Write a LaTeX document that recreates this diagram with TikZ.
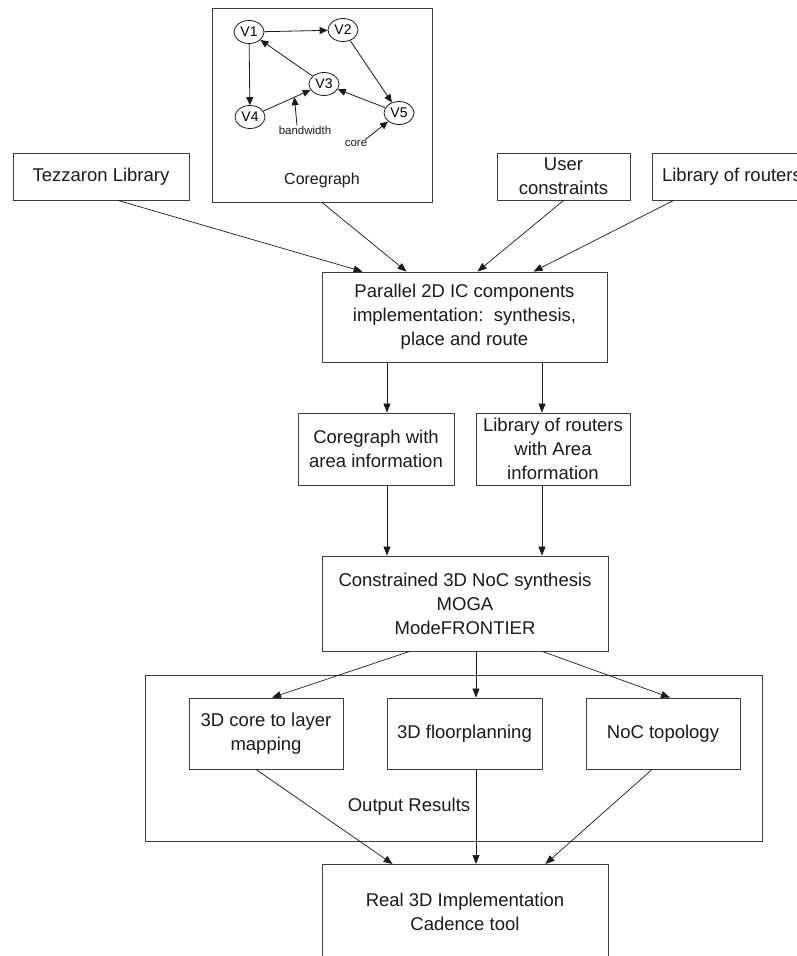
\documentclass[tikz,border=0pt]{standalone}
\usepackage{fontspec}
\setsansfont{Liberation Sans}
\usetikzlibrary{arrows.meta,shapes.geometric,calc}
\definecolor{ink}  {HTML}{1A1A1A}
\definecolor{frame}{HTML}{3C3C3C}
\tikzset{
  box/.style ={draw=frame, line width=0.9pt, fill=white, align=center,
               inner sep=0pt, text=ink,
               font=\sffamily\fontsize{18.5}{24}\selectfont},
  vtx/.style ={ellipse, draw=ink, line width=0.8pt, fill=white,
               minimum width=30pt, minimum height=23pt, inner sep=0pt,
               font=\sffamily\fontsize{14}{14}\selectfont},
  ar/.style  ={-{Triangle[length=9pt,width=7pt]}, draw=ink, line width=0.7pt},
  arg/.style ={-{Triangle[length=8pt,width=7pt]}, draw=ink, line width=0.8pt},
  tag/.style ={font=\sffamily\fontsize{11.5}{12}\selectfont, text=ink,
               inner sep=0pt},
  note/.style={font=\sffamily\fontsize{18.5}{22}\selectfont, text=ink,
               inner sep=0pt}
}

\begin{document}
\begin{tikzpicture}[x=1pt,y=-1pt]
\useasboundingbox (0,0) rectangle (797,956);
\clip (0,0) rectangle (797,956);
% frame round the output results
\node[box, minimum width=617pt, minimum height=166pt] (outp) at (453.5,758) {};
\node[note] (outlbl) at (409,807) {Output Results};

% inputs
\node[box, minimum width=176pt, minimum height=47pt] (tezz) at (101,176.5)
  {Tezzaron Library};
\node[box, minimum width=220pt, minimum height=194pt] (cgbox) at (322,105) {};
\node[box, minimum width=133pt, minimum height=47pt] (user) at (563.5,176.5)
  {User\\constraints};
\node[box, minimum width=160pt, minimum height=47pt] (libr) at (732,176.5)
  {Library of routers};

% the core graph inside its box
\node[vtx] (v1) at (249,32)  {V1};
\node[vtx] (v2) at (343,30)  {V2};
\node[vtx] (v3) at (324,84)  {V3};
\node[vtx] (v4) at (250,117) {V4};
\node[vtx] (v5) at (399,113) {V5};
\draw[arg] (v1) -- (v2);
\draw[arg] (v1) -- (v4);
\draw[arg] (v3) -- (v1);
\draw[arg] (v2) -- (v5);
\draw[arg] (v4) -- (v3);
\draw[arg] (v5) -- (v3);
\coordinate (bwtip) at ($(v4)!0.6!(v3)$);
\node[tag] (bw)    at (305,130) {bandwidth};
\node[tag] (corel) at (356,143) {core};
\draw[arg] ([xshift=-8pt]bw.north) -- (bwtip);
\draw[arg] ([xshift=-2pt]corel.north east) -- (v5.south west);
\node[tag, font=\sffamily\fontsize{16}{16}\selectfont] (cgname) at (322,180)
  {Coregraph};

% main flow
\node[box, minimum width=285pt, minimum height=90pt] (par) at (464.5,317)
  {Parallel 2D IC components\\implementation:\ \ synthesis,\\place and route};
\node[box, minimum width=156pt, minimum height=72pt] (cga) at (376,449)
  {Coregraph with\\area information};
\node[box, minimum width=154pt, minimum height=72pt] (lra) at (553,449)
  {Library of routers\\with Area\\information};
\node[box, minimum width=286pt, minimum height=95pt] (con) at (465,603.5)
  {Constrained 3D NoC synthesis\\MOGA\\ModeFRONTIER};
\node[box, minimum width=154pt, minimum height=71pt] (c2l) at (266,733.5)
  {3D core to layer\\mapping};
\node[box, minimum width=155pt, minimum height=71pt] (flr) at (464.5,733.5)
  {3D floorplanning};
\node[box, minimum width=154pt, minimum height=71pt] (noc) at (663,733.5)
  {NoC topology};
\node[box, minimum width=286pt, minimum height=94pt, anchor=north] (real)
  at (465,864) {Real 3D Implementation\\Cadence tool};

% connectors
\draw[ar] ([xshift=17pt]tezz.south) -- ([xshift=41pt]par.north west);
\draw[ar] (cgbox.south) -- ([xshift=85pt]par.north west);
\draw[ar] (user.south) -- ([xshift=156pt]par.north west);
\draw[ar] ([xshift=22pt]libr.south west) -- ([xshift=212pt]par.north west);
\draw[ar] ([xshift=11pt]cga.north |- par.south) -- ([xshift=11pt]cga.north);
\draw[ar] ([xshift=-11pt]lra.north |- par.south) -- ([xshift=-11pt]lra.north);
\draw[ar] ([xshift=11pt]cga.south) -- ([xshift=11pt]cga.south |- con.north);
\draw[ar] ([xshift=-11pt]lra.south) -- ([xshift=-11pt]lra.south |- con.north);
\draw[ar] ([xshift=88pt]con.south west) -- ([xshift=6pt]c2l.north);
\draw[ar] ([xshift=11pt]con.south) -- ([xshift=11.5pt]flr.north);
\draw[ar] ([xshift=-66pt]con.south east) -- ([xshift=7pt]noc.north);
\draw[ar] ([xshift=-10pt]c2l.south) -- ([xshift=71pt]real.north west);
\draw[ar] ([xshift=11.5pt]flr.south) -- ([xshift=11.5pt]flr.south |- real.north);
\draw[ar] ([xshift=-11pt]noc.south) -- ([xshift=-63pt]real.north east);
\end{tikzpicture}
\end{document}
